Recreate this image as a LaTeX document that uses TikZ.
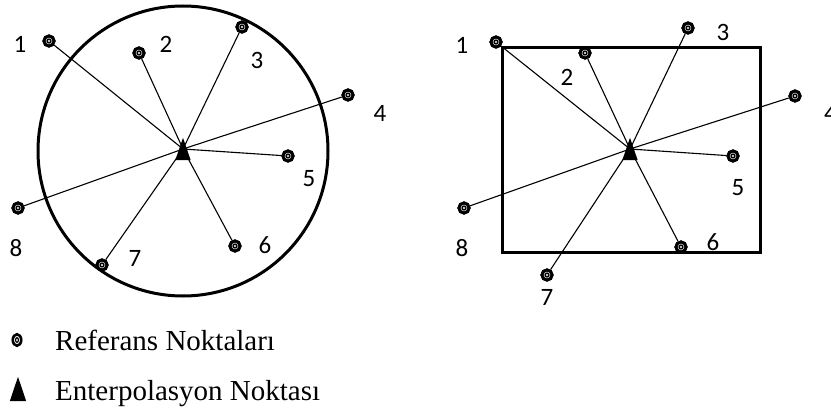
\documentclass[tikz,border=0pt]{standalone}
\usepackage{fontspec}
\setmainfont{Liberation Serif}
\newfontfamily\numfont{Carlito}
\usetikzlibrary{shapes.geometric}

\begin{document}
\begin{tikzpicture}[x=1pt,y=-1pt,
  refpt/.style={circle,draw=black,line width=3pt,fill=white,inner sep=0pt,minimum size=10pt,
    path picture={\fill[black] (path picture bounding box.center) circle (2.7pt);
      \fill[white] (path picture bounding box.center) circle (1.2pt);}},
  refleg/.style={ellipse,draw=black,line width=2.6pt,fill=white,inner sep=0pt,minimum width=8.5pt,minimum height=11.5pt,
    path picture={\fill[black] (path picture bounding box.center) ellipse (2.1pt and 3pt);
      \fill[white] (path picture bounding box.center) ellipse (0.9pt and 1.5pt);}},
  ipbox/.style={inner sep=0pt,minimum width=15pt,minimum height=22pt},
  link/.style={line width=1.1pt},
  border/.style={line width=3pt},
  num/.style={font=\numfont\fontsize{25}{25}\selectfont,inner sep=0pt},
  legtext/.style={font=\fontsize{29}{29}\selectfont,inner sep=0pt,anchor=base west}
]
\useasboundingbox (0,0) rectangle (831,412);
% left: circular search area
\draw[border] (183,151) circle (145);
\node[ipbox] (ia) at (183,149) {};
\foreach \n/\x/\y in {1/49/41,2/139/53,3/242/27,4/348/95,5/288/156,6/235/246,7/102/265,8/18/208}
  \node[refpt] (a\n) at (\x,\y) {};
\foreach \n in {1,...,8}
  \draw[link] (ia.center) -- (a\n);
\foreach \n in {1,...,8}
  \node[refpt] at (a\n) {};
\fill (ia.south west) -- (ia.south east) -- (ia.north) -- cycle;
\foreach \n/\x/\y in {1/20/44,2/166/44,3/257/60,4/380/113,5/309/179,6/265/245,7/135/258,8/16/248}
  \node[num] (la\n) at (\x,\y) {\n};
% right: rectangular search area
\draw[border] (502,48) rectangle (760,252);
\node[ipbox] (ib) at (630,149) {};
\foreach \n/\x/\y in {1/496/42,2/585/53,3/688/28,4/795/96,5/733/156,6/681/247,7/547/275,8/464/208}
  \node[refpt] (b\n) at (\x,\y) {};
\foreach \n in {1,...,8}
  \draw[link] (ib.center) -- (b\n);
\foreach \n in {1,...,8}
  \node[refpt] at (b\n) {};
\fill (ib.south west) -- (ib.south east) -- (ib.north) -- cycle;
\foreach \n/\x/\y in {1/462/45,2/567/77,3/723/32,5/738/188,6/713/242,7/547/297,8/462/248}
  \node[num] (lb\n) at (\x,\y) {\n};
\node[num,anchor=west] (lb4) at (824,113) {4};
% legend
\node[refleg] (kref) at (17,340) {};
\node[legtext] (tref) at (55,350) {Referans Noktaları};
\node[ipbox,minimum width=16pt,minimum height=24pt] (kip) at (18,389) {};
\fill (kip.south west) -- (kip.south east) -- (kip.north) -- cycle;
\node[legtext] (tip) at (55,400) {Enterpolasyon Noktası};
\end{tikzpicture}
\end{document}
